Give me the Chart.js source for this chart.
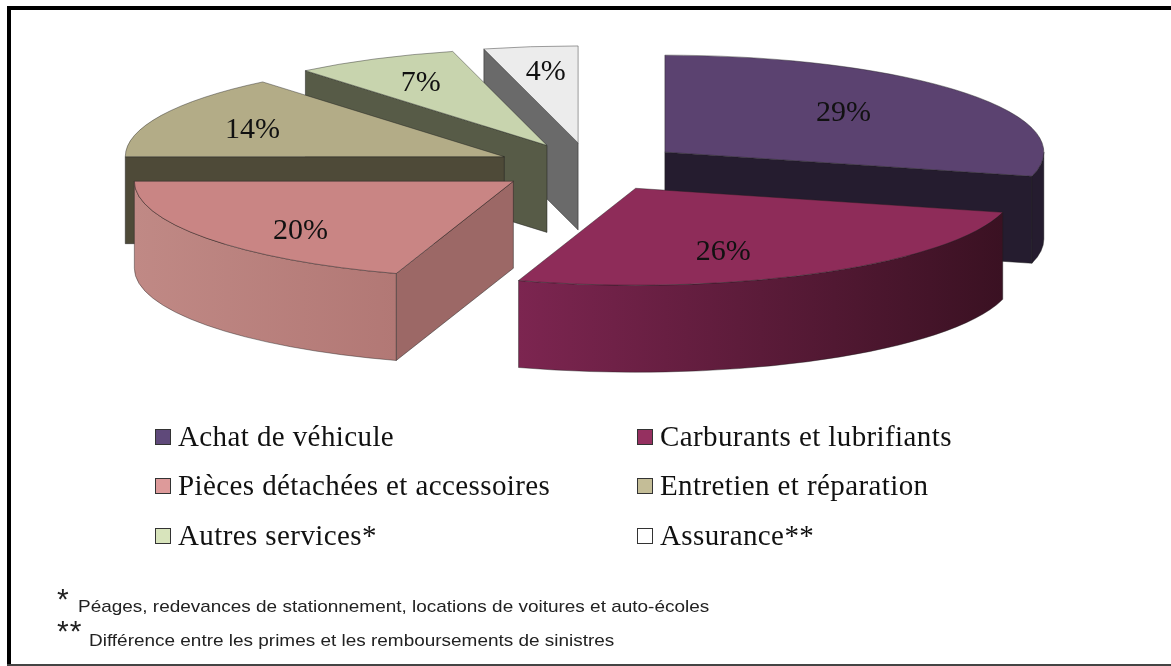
<!DOCTYPE html>
<html lang="fr">
<head>
<meta charset="utf-8">
<title>Répartition des dépenses</title>
<script src="https://cdn.jsdelivr.net/npm/chart.js@4"></script>
<style>
  html, body { margin: 0; padding: 0; background: #fff; }
  #page { position: relative; width: 1171px; height: 666px; overflow: hidden; }
  #chart { position: absolute; left: 0; top: 0; }
  #frame-top { position: absolute; left: 7px; top: 6px; right: 0; height: 4px; background: #000; }
  #frame-left { position: absolute; left: 7px; top: 6px; width: 4px; bottom: 0; background: #000; }
  #frame-bottom { position: absolute; left: 7px; right: 0; top: 664px; height: 2px; background: #444; }
  .legend-item { position: absolute; font: 29px "Liberation Serif", serif; letter-spacing: 0.4px; color: #111; white-space: nowrap; line-height: 30px; }
  .legend-item i { position: absolute; left: -23px; top: 8px; width: 14px; height: 14px; border: 1.5px solid #333; }
  .note { position: absolute; font: 17px "Liberation Sans", sans-serif; color: #222; white-space: nowrap; line-height: 20px; transform: scaleX(1.115); transform-origin: left center; }
  .star { position: absolute; font: 30px "Liberation Sans", sans-serif; color: #222; line-height: 30px; letter-spacing: 1px; }
</style>
</head>
<body>
<div id="page">
  <canvas id="chart" width="1171" height="666"></canvas>
  <div id="frame-top"></div>
  <div id="frame-left"></div>
  <div id="frame-bottom"></div>
  <div id="legend"></div>
  <div class="star" style="left:57px;top:584px">*</div>
  <div class="note" style="left:78px;top:597px">Péages, redevances de stationnement, locations de voitures et auto-écoles</div>
  <div class="star" style="left:57px;top:616px">**</div>
  <div class="note" style="left:89px;top:631px">Différence entre les primes et les remboursements de sinistres</div>
</div>
<script>
const categories = ['Achat de véhicule', 'Carburants et lubrifiants', 'Pièces détachées et accessoires', 'Entretien et réparation', 'Autres services*', 'Assurance**'];
const shares = [29, 26, 20, 14, 7, 4];

const topColors = ['#5b4270', '#8e2c59', '#c98584', '#b3ac87', '#c8d4ae', '#ececec'];
const swatchColors = ['#5f497a', '#953060', '#dd9a9a', '#c4bd97', '#d8e4bc', '#ffffff'];
const sideColors = ['#251c2f', '#3d1226', '#9c6866', '#4e4a38', '#575b47', '#6a6a6a'];
const rimStart = ['#251c2f', '#7c2550', '#c08985', '#4e4a38', '#575b47', '#6a6a6a'];
const rimEnd = ['#251c2f', '#3a1122', '#b27875', '#4e4a38', '#575b47', '#6a6a6a'];

// look of the tilted pie
const pie = { x: 590, y: 167, rx: 379, ry: 97, depth: 87, explode: 0.25 };
// back to front
const drawOrder = [5, 4, 3, 2, 0, 1];
// nudges of the % labels from their anchor
const labelNudge = [[-1, -3], [-22, 13], [-29, 16], [-46, -2], [-23, -10], [-4, -13]];

// legend, two columns
const legendSpots = [[178, 421], [660, 421], [178, 470], [660, 470], [178, 520], [660, 520]];
categories.forEach(function (name, i) {
    const el = document.createElement('div');
    el.className = 'legend-item';
    el.style.left = legendSpots[i][0] + 'px';
    el.style.top = legendSpots[i][1] + 'px';
    el.innerHTML = '<i style="background:' + swatchColors[i] + '"></i>' + name;
    document.getElementById('legend').appendChild(el);
});

function sliceApex(arc) {
    const mid = (arc.startAngle + arc.endAngle) / 2;
    return {
        x: pie.x + Math.cos(mid) * pie.rx * pie.explode,
        y: pie.y + Math.sin(mid) * pie.ry * pie.explode
    };
}

function rim(apex, angle) {
    return { x: apex.x + Math.cos(angle) * pie.rx, y: apex.y + Math.sin(angle) * pie.ry };
}

// flat side of a slice
function drawRadialFace(ctx, apex, angle, color) {
    const p = rim(apex, angle);
    ctx.beginPath();
    ctx.moveTo(apex.x, apex.y);
    ctx.lineTo(p.x, p.y);
    ctx.lineTo(p.x, p.y + pie.depth);
    ctx.lineTo(apex.x, apex.y + pie.depth);
    ctx.closePath();
    ctx.fillStyle = color;
    ctx.fill();
    ctx.strokeStyle = 'rgba(30,30,30,0.7)';
    ctx.lineWidth = 0.7;
    ctx.stroke();
}

// curved side, only the front half of the circle shows
function drawRimFace(ctx, apex, from, to, i) {
    const a = Math.max(from, 0);
    const b = Math.min(to, Math.PI);
    if (b <= a) return;
    const grad = ctx.createLinearGradient(rim(apex, b).x, 0, rim(apex, a).x, 0);
    grad.addColorStop(0, rimStart[i]);
    grad.addColorStop(1, rimEnd[i]);
    ctx.beginPath();
    ctx.ellipse(apex.x, apex.y, pie.rx, pie.ry, 0, a, b);
    ctx.ellipse(apex.x, apex.y + pie.depth, pie.rx, pie.ry, 0, b, a, true);
    ctx.closePath();
    ctx.fillStyle = grad;
    ctx.fill();
    ctx.strokeStyle = 'rgba(30,30,30,0.6)';
    ctx.lineWidth = 0.7;
    ctx.stroke();
}

const tiltedPie = {
    id: 'tiltedPie',
    beforeDatasetDraw: function (chart) {
        const ctx = chart.ctx;
        const arcs = chart.getDatasetMeta(0).data;
        drawOrder.forEach(function (i) {
            const arc = arcs[i];
            const apex = sliceApex(arc);
            const start = arc.startAngle;
            const end = arc.endAngle;

            if (Math.cos(start) < 0) drawRadialFace(ctx, apex, start, sideColors[i]);
            if (Math.cos(end) > 0 && Math.sin(end) > 0) drawRadialFace(ctx, apex, end, sideColors[i]);
            drawRimFace(ctx, apex, start, end, i);

            // top face, the library's own arc squeezed into the ellipse
            ctx.save();
            ctx.translate(apex.x, apex.y);
            ctx.scale(pie.rx / arc.outerRadius, pie.ry / arc.outerRadius);
            ctx.translate(-arc.x, -arc.y);
            arc.draw(ctx);
            ctx.restore();

            ctx.beginPath();
            ctx.moveTo(apex.x, apex.y);
            ctx.ellipse(apex.x, apex.y, pie.rx, pie.ry, 0, start, end);
            ctx.closePath();
            ctx.strokeStyle = 'rgba(30,30,30,0.6)';
            ctx.lineWidth = 0.7;
            ctx.stroke();
        });

        // % labels
        ctx.font = '30px "Liberation Serif", serif';
        ctx.fillStyle = '#111';
        ctx.textAlign = 'center';
        ctx.textBaseline = 'middle';
        arcs.forEach(function (arc, i) {
            const apex = sliceApex(arc);
            const mid = (arc.startAngle + arc.endAngle) / 2;
            const x = apex.x + Math.cos(mid) * pie.rx * 0.6 + labelNudge[i][0];
            const y = apex.y + Math.sin(mid) * pie.ry * 0.6 + labelNudge[i][1];
            ctx.fillText(shares[i] + '%', x, y);
        });
        return false;
    }
};

new Chart(document.getElementById('chart').getContext('2d'), {
    type: 'pie',
    data: {
        labels: categories,
        datasets: [{
            data: shares,
            backgroundColor: topColors,
            borderWidth: 0
        }]
    },
    options: {
        responsive: false,
        animation: false,
        plugins: {
            legend: { display: false },
            tooltip: { enabled: false }
        }
    },
    plugins: [tiltedPie]
});
</script>
</body>
</html>
